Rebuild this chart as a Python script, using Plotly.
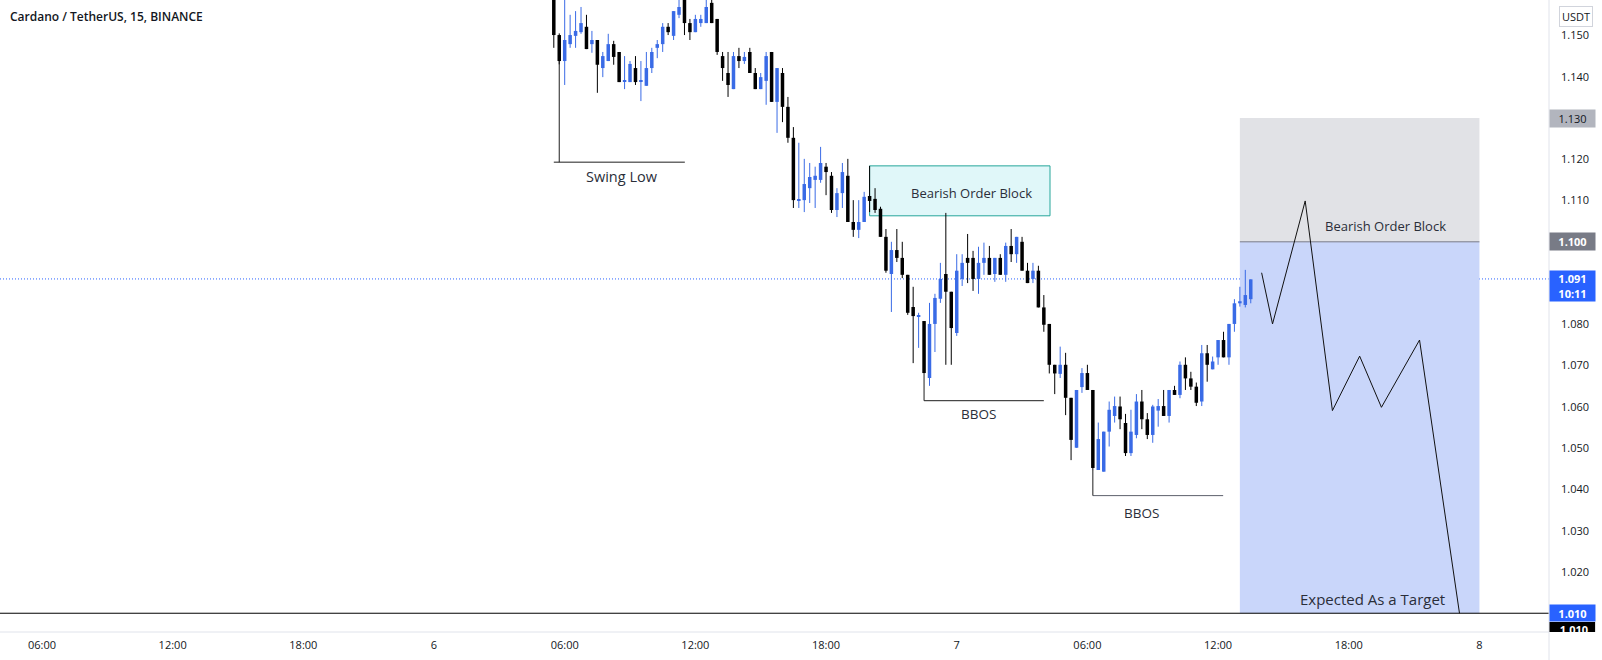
import plotly.graph_objects as go
import pandas as pd

# ---------------- data ----------------
title_text = "Cardano / TetherUS, 15, BINANCE"
first_candle = "2021-03-06 05:30"

opens = [1.1620, 1.1501, 1.1438, 1.1479, 1.1499, 1.1508, 1.1521, 1.1479, 1.1489, 1.1421,
         1.1438, 1.1479, 1.1460, 1.1389, 1.1387, 1.1421, 1.1389, 1.1378, 1.1421, 1.1470,
         1.1479, 1.1521, 1.1499, 1.1550, 1.1592, 1.1530, 1.1508, 1.1530, 1.1530, 1.1579,
         1.1540, 1.1450, 1.1409, 1.1370, 1.1450, 1.1438, 1.1460, 1.1409, 1.1370, 1.1390,
         1.1460, 1.1339, 1.1409, 1.1327, 1.1252, 1.1099, 1.1101, 1.1130, 1.1150, 1.1150,
         1.1182, 1.1160, 1.1077, 1.1118, 1.1160, 1.1048, 1.1029, 1.1048, 1.1111, 1.1104,
         1.1080, 1.1012, 1.0922, 1.0980, 1.0961, 1.0920, 1.0842, 1.0819, 1.0808, 1.0670,
         1.0801, 1.0862, 1.0922, 1.0879, 1.0779, 1.0910, 1.0961, 1.0961, 1.0910, 1.0949,
         1.0961, 1.0922, 1.0961, 1.0920, 1.0990, 1.0970, 1.1000, 1.0930, 1.0910, 1.0930,
         1.0841, 1.0801, 1.0702, 1.0680, 1.0702, 1.0622, 1.0501, 1.0648, 1.0682, 1.0641,
         1.0447, 1.0443, 1.0540, 1.0578, 1.0601, 1.0561, 1.0488, 1.0532, 1.0613, 1.0570,
         1.0532, 1.0591, 1.0602, 1.0578, 1.0641, 1.0629, 1.0702, 1.0669, 1.0649, 1.0613,
         1.0730, 1.0691, 1.0720, 1.0762, 1.0720, 1.0801, 1.0851, 1.0847, 1.0861]
highs = [1.1630, 1.1505, 1.1595, 1.1550, 1.1559, 1.1569, 1.1550, 1.1511, 1.1489, 1.1460,
         1.1504, 1.1487, 1.1460, 1.1450, 1.1438, 1.1450, 1.1438, 1.1460, 1.1470, 1.1489,
         1.1530, 1.1530, 1.1559, 1.1590, 1.1598, 1.1540, 1.1550, 1.1550, 1.1595, 1.1595,
         1.1540, 1.1460, 1.1460, 1.1460, 1.1470, 1.1460, 1.1470, 1.1421, 1.1409, 1.1460,
         1.1460, 1.1421, 1.1421, 1.1351, 1.1278, 1.1240, 1.1201, 1.1191, 1.1182, 1.1230,
         1.1191, 1.1169, 1.1130, 1.1191, 1.1201, 1.1101, 1.1101, 1.1121, 1.1184, 1.1130,
         1.1085, 1.1031, 1.1000, 1.1031, 1.1000, 1.0920, 1.0891, 1.0828, 1.0808, 1.0852,
         1.0874, 1.0949, 1.1070, 1.0879, 1.0970, 1.0970, 1.1019, 1.0978, 1.0988, 1.0998,
         1.0990, 1.0961, 1.0970, 1.0998, 1.1031, 1.1012, 1.1012, 1.0949, 1.0949, 1.0942,
         1.0871, 1.0801, 1.0702, 1.0746, 1.0731, 1.0622, 1.0641, 1.0694, 1.0702, 1.0641,
         1.0562, 1.0540, 1.0613, 1.0625, 1.0625, 1.0583, 1.0593, 1.0631, 1.0641, 1.0585,
         1.0605, 1.0619, 1.0641, 1.0641, 1.0651, 1.0710, 1.0720, 1.0685, 1.0659, 1.0750,
         1.0750, 1.0722, 1.0762, 1.0782, 1.0801, 1.0861, 1.0891, 1.0932, 1.0909]
lows = [1.1470, 1.1430, 1.1380, 1.1470, 1.1470, 1.1504, 1.1467, 1.1458, 1.1361, 1.1399,
        1.1438, 1.1429, 1.1387, 1.1370, 1.1387, 1.1380, 1.1341, 1.1378, 1.1409, 1.1445,
        1.1460, 1.1501, 1.1489, 1.1542, 1.1501, 1.1489, 1.1508, 1.1521, 1.1530, 1.1530,
        1.1453, 1.1390, 1.1351, 1.1370, 1.1421, 1.1431, 1.1409, 1.1370, 1.1370, 1.1332,
        1.1339, 1.1264, 1.1290, 1.1240, 1.1082, 1.1082, 1.1072, 1.1094, 1.1082, 1.1143,
        1.1113, 1.1070, 1.1060, 1.1082, 1.1048, 1.1012, 1.1009, 1.1048, 1.1072, 1.1070,
        1.1012, 1.0925, 1.0830, 1.0951, 1.0912, 1.0823, 1.0706, 1.0743, 1.0682, 1.0651,
        1.0733, 1.0852, 1.0702, 1.0702, 1.0772, 1.0893, 1.0900, 1.0881, 1.0874, 1.0920,
        1.0920, 1.0903, 1.0920, 1.0903, 1.0951, 1.0949, 1.0930, 1.0900, 1.0900, 1.0841,
        1.0782, 1.0681, 1.0631, 1.0670, 1.0580, 1.0471, 1.0501, 1.0634, 1.0641, 1.0445,
        1.0447, 1.0443, 1.0504, 1.0562, 1.0546, 1.0481, 1.0481, 1.0524, 1.0546, 1.0522,
        1.0513, 1.0552, 1.0578, 1.0562, 1.0629, 1.0621, 1.0641, 1.0641, 1.0602, 1.0602,
        1.0661, 1.0691, 1.0702, 1.0720, 1.0702, 1.0782, 1.0843, 1.0841, 1.0851]
closes = [1.1501, 1.1438, 1.1489, 1.1501, 1.1511, 1.1530, 1.1467, 1.1489, 1.1429, 1.1450,
          1.1479, 1.1448, 1.1387, 1.1392, 1.1431, 1.1387, 1.1391, 1.1421, 1.1460, 1.1479,
          1.1521, 1.1508, 1.1559, 1.1569, 1.1530, 1.1508, 1.1540, 1.1540, 1.1569, 1.1530,
          1.1460, 1.1421, 1.1380, 1.1450, 1.1438, 1.1448, 1.1409, 1.1370, 1.1399, 1.1450,
          1.1339, 1.1421, 1.1327, 1.1252, 1.1101, 1.1103, 1.1140, 1.1157, 1.1160, 1.1191,
          1.1169, 1.1077, 1.1118, 1.1169, 1.1048, 1.1029, 1.1048, 1.1109, 1.1099, 1.1077,
          1.1012, 1.0930, 1.0980, 1.0961, 1.0920, 1.0828, 1.0820, 1.0821, 1.0682, 1.0801,
          1.0864, 1.0910, 1.0879, 1.0791, 1.0930, 1.0949, 1.0949, 1.0910, 1.0949, 1.0961,
          1.0920, 1.0961, 1.0920, 1.0990, 1.0970, 1.1012, 1.0930, 1.0900, 1.0930, 1.0841,
          1.0799, 1.0702, 1.0681, 1.0702, 1.0622, 1.0520, 1.0641, 1.0682, 1.0641, 1.0452,
          1.0522, 1.0540, 1.0593, 1.0602, 1.0570, 1.0488, 1.0540, 1.0613, 1.0570, 1.0532,
          1.0601, 1.0602, 1.0578, 1.0641, 1.0629, 1.0702, 1.0669, 1.0649, 1.0610, 1.0730,
          1.0702, 1.0710, 1.0762, 1.0720, 1.0801, 1.0851, 1.0856, 1.0871, 1.0909]

x_tickvals = ["2021-03-05 06:00", "2021-03-05 12:00", "2021-03-05 18:00", "2021-03-06 00:00",
              "2021-03-06 06:00", "2021-03-06 12:00", "2021-03-06 18:00", "2021-03-07 00:00",
              "2021-03-07 06:00", "2021-03-07 12:00", "2021-03-07 18:00", "2021-03-08 00:00"]
x_ticktext = ["06:00", "12:00", "18:00", "6", "06:00", "12:00", "18:00", "7",
              "06:00", "12:00", "18:00", "8"]
y_tickvals = [1.02, 1.03, 1.04, 1.05, 1.06, 1.07, 1.08, 1.11, 1.12, 1.14, 1.15]

x_range = ["2021-03-05 04:04:22", "2021-03-08 03:11:38"]
y_range = [1.005454, 1.158592]

# drawings
swing_low_t = ["2021-03-06 05:30", "2021-03-06 11:31"]
swing_low_p = 1.1193
swing_low_vert_t = "2021-03-06 05:45"
swing_low_vert_p = [1.1438, 1.1193]

bbos1_t = ["2021-03-06 22:30", "2021-03-07 04:00"]
bbos1_p = 1.0615
bbos1_vert_p = [1.0682, 1.0615]

bbos2_t = ["2021-03-07 06:15", "2021-03-07 12:14"]
bbos2_p = 1.0385
bbos2_vert_p = [1.0445, 1.0385]

ob_t = ["2021-03-06 20:00", "2021-03-07 04:17"]
ob_p = [1.1063, 1.1184]

pos_t = ["2021-03-07 13:00", "2021-03-08 00:00"]
stop_p, entry_p, target_p = 1.130, 1.100, 1.010
last_price = 1.091
countdown = "10:11"

proj_t = ["2021-03-07 14:00", "2021-03-07 14:30", "2021-03-07 16:00", "2021-03-07 17:15",
          "2021-03-07 18:30", "2021-03-07 19:30", "2021-03-07 21:15", "2021-03-07 23:05"]
proj_p = [1.0925, 1.0801, 1.1099, 1.0591, 1.0723, 1.0599, 1.0762, 1.0100]

# ---------------- style ----------------
UP = "#3a6be6"
DOWN = "#000000"
BLUE = "#2962ff"
TXT = "#131722"
FONT = "Open Sans"
XD = 1549 / 1602          # right edge of the plot area (paper)
YB = 28 / 660             # bottom of the plot area (paper)

times = pd.date_range(first_candle, periods=len(opens), freq="15min")
up = [c >= o for o, c in zip(opens, closes)]

fig = go.Figure()


def add_candles(mask, color):
    bx, bb, bh, wx, wy = [], [], [], [], []
    for t, o, h, l, c, m in zip(times, opens, highs, lows, closes, up):
        if m != mask:
            continue
        lo, hi = min(o, c), max(o, c)
        bx.append(t)
        bb.append(lo)
        bh.append(max(hi - lo, 0.00022))
        wx += [t, t, None]
        wy += [l, h, None]
    fig.add_trace(go.Scatter(x=wx, y=wy, mode="lines", line=dict(color=color, width=1),
                             hoverinfo="skip", showlegend=False))
    fig.add_trace(go.Bar(x=bx, y=bh, base=bb, width=580000,
                         marker=dict(color=color, line=dict(width=0)),
                         hoverinfo="skip", showlegend=False))


add_candles(True, UP)
add_candles(False, DOWN)

line_style = dict(color="#1e1e1e", width=1)
# swing low
fig.add_trace(go.Scatter(x=swing_low_t, y=[swing_low_p] * 2, mode="lines", line=line_style,
                         hoverinfo="skip", showlegend=False))
fig.add_trace(go.Scatter(x=[swing_low_vert_t] * 2, y=swing_low_vert_p, mode="lines", line=line_style,
                         hoverinfo="skip", showlegend=False))
# BBOS 1
fig.add_trace(go.Scatter(x=bbos1_t, y=[bbos1_p] * 2, mode="lines", line=line_style,
                         hoverinfo="skip", showlegend=False))
fig.add_trace(go.Scatter(x=[bbos1_t[0]] * 2, y=bbos1_vert_p, mode="lines", line=line_style,
                         hoverinfo="skip", showlegend=False))
# BBOS 2
fig.add_trace(go.Scatter(x=bbos2_t, y=[bbos2_p] * 2, mode="lines", line=dict(color="#5d606b", width=1),
                         hoverinfo="skip", showlegend=False))
fig.add_trace(go.Scatter(x=[bbos2_t[0]] * 2, y=bbos2_vert_p, mode="lines", line=line_style,
                         hoverinfo="skip", showlegend=False))
# projection path
fig.add_trace(go.Scatter(x=proj_t, y=proj_p, mode="lines", line=dict(color="#111111", width=1),
                         hoverinfo="skip", showlegend=False))

# clipped black 1.010 label in the price-scale strip
fig.add_trace(go.Scatter(x=[0.47], y=[target_p - 0.0043], mode="text", text=[f"{target_p:.3f}"],
                         textfont=dict(family=FONT, size=11, color="white", weight=700),
                         xaxis="x2", yaxis="y2", cliponaxis=True, hoverinfo="skip", showlegend=False))

shapes = [
    # position tool
    dict(type="rect", xref="x", yref="y", x0=pos_t[0], x1=pos_t[1], y0=entry_p, y1=stop_p,
         fillcolor="#e1e2e6", line=dict(width=0), layer="below"),
    dict(type="rect", xref="x", yref="y", x0=pos_t[0], x1=pos_t[1], y0=target_p, y1=entry_p,
         fillcolor="#c9d6fa", line=dict(width=0), layer="below"),
    dict(type="line", xref="x", yref="y", x0=pos_t[0], x1=pos_t[1], y0=entry_p, y1=entry_p,
         line=dict(color="#787b86", width=1), layer="below"),
    # bearish order block box
    dict(type="rect", xref="x", yref="y", x0=ob_t[0], x1=ob_t[1], y0=ob_p[0], y1=ob_p[1],
         fillcolor="#e0f7f9", line=dict(color="#26a69a", width=1), layer="below"),
    # last-price dotted line
    dict(type="line", xref="paper", yref="y", x0=0, x1=XD, y0=last_price, y1=last_price,
         line=dict(color=BLUE, width=1, dash="1px,2px"), layer="below"),
    # horizontal target line
    dict(type="line", xref="paper", yref="y", x0=0, x1=XD, y0=target_p, y1=target_p,
         line=dict(color="#000000", width=1), layer="above"),
    # frame lines
    dict(type="line", xref="paper", yref="paper", x0=XD, x1=XD, y0=0, y1=1,
         line=dict(color="#e0e3eb", width=1)),
    dict(type="line", xref="paper", yref="paper", x0=0, x1=XD, y0=YB, y1=YB,
         line=dict(color="#e0e3eb", width=1)),
    # clipped black label box
    dict(type="rect", xref="x2", yref="y2", x0=0.0, x1=0.87, y0=target_p - 0.0070,
         y1=target_p - 0.0021, fillcolor="#000000", line=dict(width=0), layer="below"),
]

LX = 1572 / 1602
annotations = [
    dict(text=title_text, xref="paper", yref="paper", x=8 / 1602, y=1 - 16.5 / 660,
         xanchor="left", yanchor="middle", showarrow=False,
         font=dict(family=FONT, size=12, color=TXT, weight=600)),
    dict(text="USDT", xref="paper", yref="paper", x=1576 / 1602, y=1 - 16.5 / 660,
         xanchor="center", yanchor="middle", showarrow=False, bordercolor="#d1d4dc",
         borderwidth=1, borderpad=2, font=dict(family=FONT, size=11, color=TXT)),
    dict(text=f"{stop_p:.3f}", xref="paper", yref="y", x=LX, y=stop_p, showarrow=False,
         xanchor="center", yanchor="middle",
         bgcolor="#b2b5be", width=45, height=17, borderpad=0,
         font=dict(family=FONT, size=11, color=TXT)),
    dict(text=f"{entry_p:.3f}", xref="paper", yref="y", x=LX, y=entry_p, showarrow=False,
         xanchor="center", yanchor="middle",
         bgcolor="#787b86", width=45, height=17, borderpad=0,
         font=dict(family=FONT, size=11, color="white", weight=700)),
    dict(text=f"{last_price:.3f}<br>{countdown}", xref="paper", yref="y", x=LX, y=last_price,
         xanchor="center", yanchor="middle",
         yshift=-7, showarrow=False, bgcolor=BLUE, width=45, height=30, borderpad=0,
         font=dict(family=FONT, size=11, color="white", weight=700)),
    dict(text=f"{target_p:.3f}", xref="paper", yref="y", x=LX, y=target_p, showarrow=False,
         xanchor="center", yanchor="middle",
         bgcolor=BLUE, width=45, height=16, borderpad=0,
         font=dict(family=FONT, size=11, color="white", weight=700)),
]

notes = [
    ("Swing Low", "2021-03-06 08:37", 1.1158, 14.5),
    ("Bearish Order Block", "2021-03-07 00:41", 1.1119, 13),
    ("BBOS", "2021-03-07 00:59", 1.0583, 13.5),
    ("BBOS", "2021-03-07 08:28", 1.0343, 13.5),
    ("Bearish Order Block", "2021-03-07 19:41", 1.1038, 13),
    ("Expected As a Target", "2021-03-07 19:05", 1.0134, 15),
]
for txt, t, p, sz in notes:
    annotations.append(dict(text=txt, x=t, y=p, xref="x", yref="y", showarrow=False,
                            xanchor="center", yanchor="middle",
                            font=dict(family=FONT, size=sz, color="#2a2e39")))

fig.update_layout(
    width=1602, height=660,
    margin=dict(l=0, r=0, t=0, b=0),
    paper_bgcolor="white", plot_bgcolor="white",
    barmode="overlay",
    showlegend=False,
    shapes=shapes,
    annotations=annotations,
    xaxis=dict(domain=[0, XD], type="date", range=x_range, tickvals=x_tickvals,
               ticktext=x_ticktext, showgrid=False, zeroline=False, showline=False,
               ticks="", ticklabelstandoff=5, fixedrange=True,
               tickfont=dict(family=FONT, size=11, color=TXT), anchor="y"),
    yaxis=dict(domain=[YB, 1], range=y_range, side="right", tickvals=y_tickvals,
               ticktext=[f"{v:.3f}" for v in y_tickvals], showgrid=False, zeroline=False,
               showline=False, ticks="", ticklabelstandoff=11, fixedrange=True,
               tickfont=dict(family=FONT, size=11, color=TXT), anchor="x"),
    xaxis2=dict(domain=[XD, 1], range=[0, 1], visible=False, anchor="y2", fixedrange=True),
    yaxis2=dict(domain=[YB, 1], range=y_range, visible=False, anchor="x2", fixedrange=True),
)

fig.write_html("out.html", config={"displayModeBar": False})
